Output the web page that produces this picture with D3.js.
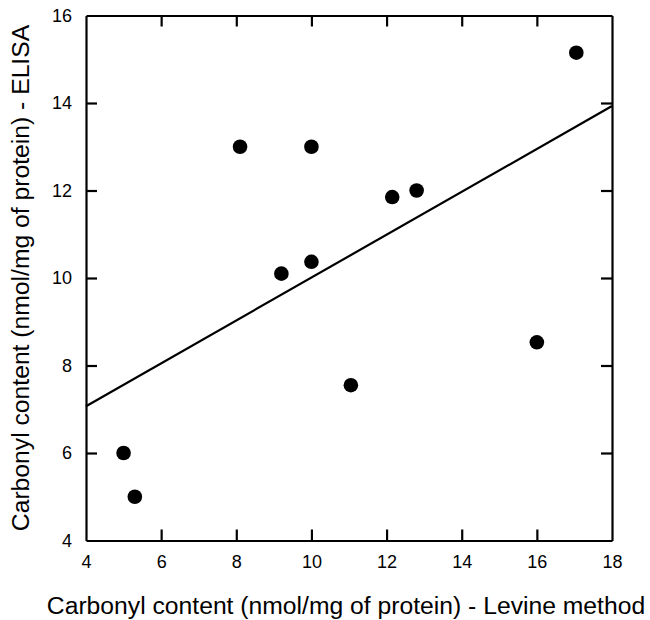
<!DOCTYPE html>
<html>
<head>
<meta charset="utf-8">
<script src="https://cdn.jsdelivr.net/npm/d3@7"></script>
<style>
    body { margin: 0; background: #fff; }
    svg { display: block; }
    text { font-family: "Liberation Sans", Arial, sans-serif; fill: #000; }
</style>
</head>
<body>
<script>
// data
const levine = [5, 5.3, 8.1, 10, 12.15, 12.8, 9.2, 10, 11.05, 17.05, 16];
const elisa = [6, 5, 13, 13, 11.85, 12, 10.1, 10.37, 7.55, 15.15, 8.53];
const fitX = [4, 18];
const fitY = [7.07, 13.93];
const xTicks = [4, 6, 8, 10, 12, 14, 16, 18];
const yTicks = [4, 6, 8, 10, 12, 14, 16];

const width = 650;
const height = 620;
const margin = {top: 15.5, right: 38, bottom: 79.5, left: 86};

const svg = d3.select('body').append('svg')
    .attr('width', width)
    .attr('height', height);

const x = d3.scaleLinear().domain([4, 18]).range([margin.left, width - margin.right]);
const y = d3.scaleLinear().domain([4, 16]).range([height - margin.bottom, margin.top]);

const tickLen = 11;

// axes: ticks point inward, mirrored on top and right
const axisB = svg.append('g')
    .attr('transform', `translate(0,${y(4)})`)
    .call(d3.axisBottom(x).tickValues(xTicks).tickSizeInner(-tickLen).tickSizeOuter(0).tickPadding(15));
const axisL = svg.append('g')
    .attr('transform', `translate(${x(4)},0)`)
    .call(d3.axisLeft(y).tickValues(yTicks).tickSizeInner(-tickLen).tickSizeOuter(0).tickPadding(14));
const axisT = svg.append('g')
    .attr('transform', `translate(0,${y(16)})`)
    .call(d3.axisTop(x).tickValues(xTicks).tickSizeInner(-tickLen).tickSizeOuter(0).tickFormat(''));
const axisR = svg.append('g')
    .attr('transform', `translate(${x(18)},0)`)
    .call(d3.axisRight(y).tickValues(yTicks).tickSizeInner(-tickLen).tickSizeOuter(0).tickFormat(''));

[axisB, axisL, axisT, axisR].forEach((g) => {
    g.selectAll('path, line').attr('stroke', '#000').attr('stroke-width', 2.2);
    g.selectAll('text')
        .style('font-family', '"Liberation Sans", Arial, sans-serif')
        .style('font-size', '18px')
        .attr('fill', '#000');
});
// drop the ticks that would sit on the frame corners
axisB.selectAll('.tick').filter(d => d === 4 || d === 18).select('line').remove();
axisT.selectAll('.tick').filter(d => d === 4 || d === 18).select('line').remove();
axisL.selectAll('.tick').filter(d => d === 4 || d === 16).select('line').remove();
axisR.selectAll('.tick').filter(d => d === 4 || d === 16).select('line').remove();

// regression line
svg.append('line')
    .attr('x1', x(fitX[0]))
    .attr('y1', y(fitY[0]))
    .attr('x2', x(fitX[1]))
    .attr('y2', y(fitY[1]))
    .attr('stroke', '#000')
    .attr('stroke-width', 2.2);

// points
svg.append('g')
    .selectAll('circle')
    .data(levine.map((v, i) => ({x: v, y: elisa[i]})))
    .enter()
    .append('circle')
    .attr('cx', d => x(d.x))
    .attr('cy', d => y(d.y))
    .attr('r', 7.3)
    .attr('fill', '#000');

// axis titles
svg.append('text')
    .attr('x', (x(4) + x(18)) / 2 - 3)
    .attr('y', 613.5)
    .attr('text-anchor', 'middle')
    .style('font-size', '24.7px')
    .text('Carbonyl content (nmol/mg of protein) - Levine method');

svg.append('text')
    .attr('transform', `translate(29,${(y(4) + y(16)) / 2}) rotate(-90)`)
    .attr('text-anchor', 'middle')
    .style('font-size', '24.7px')
    .text('Carbonyl content (nmol/mg of protein) - ELISA');
</script>
</body>
</html>
